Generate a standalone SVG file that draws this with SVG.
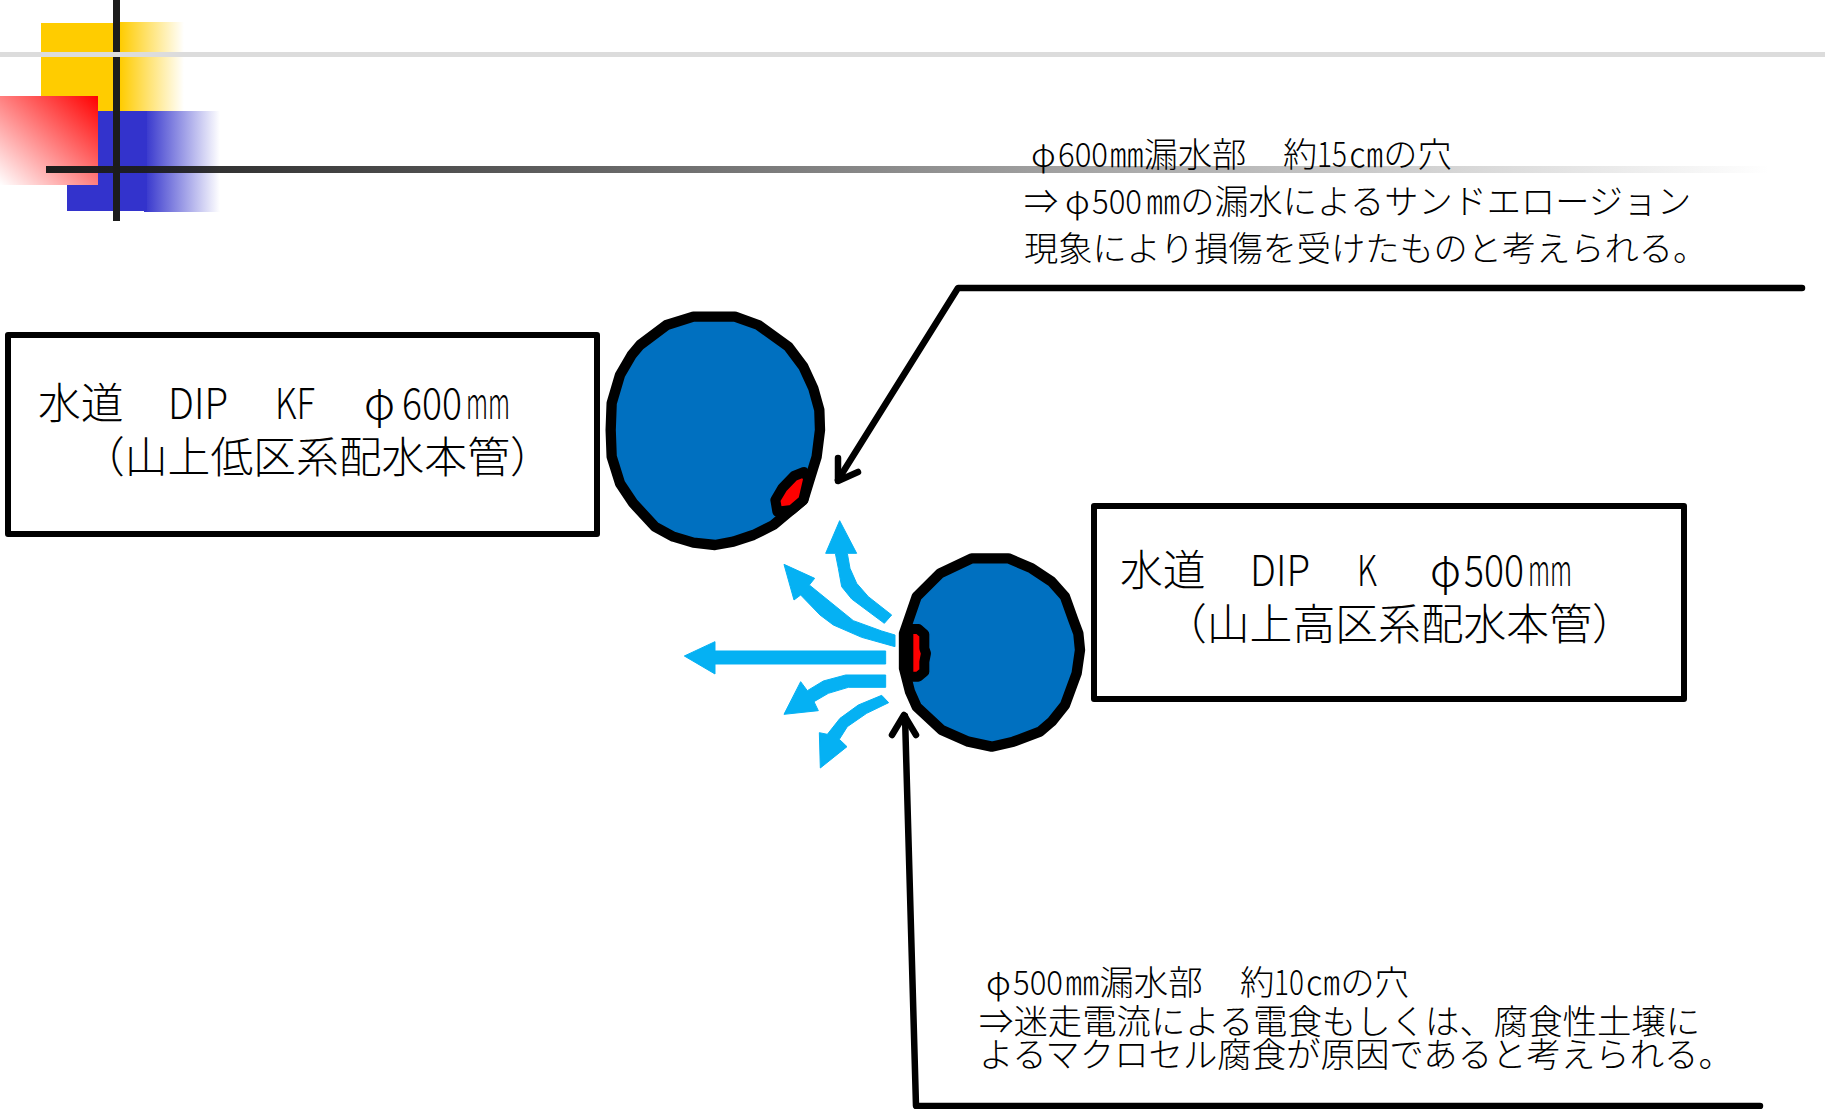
<svg xmlns="http://www.w3.org/2000/svg" width="1825" height="1109" viewBox="0 0 1825 1109">
<style>
text{font-family:"Noto Sans CJK JP","Noto Sans",sans-serif;fill:#000;font-weight:300}
.b{font-size:42.8px}
.c{font-size:34.2px}
.d{font-size:34.4px}
.box{fill:#fff;stroke:#000;stroke-width:6;stroke-linejoin:round}
.pipe{fill:#0070c0;stroke:#000;stroke-width:31;stroke-linejoin:round}
.hole{fill:#f00;stroke:#000;stroke-width:30;stroke-linejoin:round}
.flow{fill:#05b1f3;stroke:#05b1f3;stroke-width:3;stroke-linejoin:round}
.ln{fill:none;stroke:#000;stroke-width:6.5;stroke-linejoin:round;stroke-linecap:round}
</style>
<defs>
<linearGradient id="gy" x1="0" x2="1" y1="0" y2="0"><stop offset="0" stop-color="#fc0"/><stop offset="1" stop-color="#fc0" stop-opacity="0"/></linearGradient>
<linearGradient id="gb" x1="0" x2="1" y1="0" y2="0"><stop offset="0" stop-color="#3333cc"/><stop offset="1" stop-color="#3333cc" stop-opacity="0"/></linearGradient>
<linearGradient id="gr" x1="1" x2="0" y1="0" y2="1"><stop offset="0" stop-color="#f00"/><stop offset="1" stop-color="#fff"/></linearGradient>
<linearGradient id="gk" x1="0" x2="1" y1="0" y2="0"><stop offset="0" stop-color="#1c1c1c"/><stop offset="1" stop-color="#1c1c1c" stop-opacity="0"/></linearGradient>
</defs>
<g id="header">
<rect x="41" y="23" width="80" height="88" fill="#fc0"/>
<rect x="120" y="22" width="64" height="89" fill="url(#gy)"/>
<rect x="67" y="111" width="80" height="100" fill="#3333cc"/>
<rect x="144" y="111" width="76" height="101" fill="url(#gb)"/>
<rect x="0" y="96" width="98" height="89" fill="url(#gr)"/>
<rect x="113" y="0" width="7" height="221" fill="#1c1c1c"/>
<rect x="0" y="52" width="1825" height="5" fill="#dcdcdc"/>
<rect x="46" y="166" width="1724" height="7" fill="url(#gk)"/>
</g>
<g id="connectors">
<path class="ln" d="M1802 288H958L838 480"/>
<path class="ln" d="M838 458V481L858 472"/>
<path class="ln" d="M1760 1106H916L905 716"/>
<path class="ln" d="M892 735L904 715L916 735"/>
</g>
<g id="flows" transform="translate(590 300) scale(.33333)">
<path class="flow" d="M749 662L800 760H772L780 805L800 850L835 890L905 945L883 970L785 897L755 860L745 805L736 760H707Z"/>
<path class="flow" d="M582 793L674 835L658 855L790 962L875 993L915 1005V1040L815 1012L730 975L690 945L632 885L612 900Z"/>
<path class="flow" d="M283 1068L375 1025V1053H887V1092H375V1122Z"/>
<path class="flow" d="M887 1125V1162H775L715 1180L672 1205L685 1232L582 1243L632 1145L652 1172L700 1143L767 1125Z"/>
<path class="flow" d="M875 1186L896 1208L830 1240L772 1280L748 1318L771 1340L691 1404L688 1298L712 1303L750 1255L805 1215Z"/>
</g>
<g id="pipe600">
<rect class="box" x="8" y="335" width="589" height="199"/>
<text class="b" y="419"><tspan x="38">水道</tspan><tspan x="168" textLength="60" lengthAdjust="spacingAndGlyphs">DIP</tspan><tspan x="275" textLength="40" lengthAdjust="spacingAndGlyphs">KF</tspan><tspan x="364">φ</tspan><tspan x="402" textLength="60" lengthAdjust="spacingAndGlyphs">600</tspan><tspan x="466" textLength="44" lengthAdjust="spacingAndGlyphs">mm</tspan></text>
<text class="b" x="82" y="473">（山上低区系配水本管）</text>
<g transform="translate(590 300) scale(.33333)">
<path class="pipe" d="M310 50H435L505 75L595 140L640 200L670 265L688 330L690 390L680 470L660 535L640 600L610 625L550 675L490 705L430 725L375 735L310 728L250 710L195 680L130 610L90 550L65 470L62 390L65 310L90 225L125 165L150 135L230 75Z"/>
<path class="hole" d="M642 516L655 535L640 600L605 630L562 635L556 600L578 563L612 528Z"/>
</g>
</g>
<g id="pipe500">
<rect class="box" x="1094" y="506" width="590" height="193"/>
<text class="b" y="586"><tspan x="1120">水道</tspan><tspan x="1250" textLength="60" lengthAdjust="spacingAndGlyphs">DIP</tspan><tspan x="1357" textLength="20" lengthAdjust="spacingAndGlyphs">K</tspan><tspan x="1430">φ</tspan><tspan x="1464" textLength="60" lengthAdjust="spacingAndGlyphs">500</tspan><tspan x="1528" textLength="44" lengthAdjust="spacingAndGlyphs">mm</tspan></text>
<text class="b" x="1164" y="640">（山上高区系配水本管）</text>
<g transform="translate(590 300) scale(.33333)">
<path class="pipe" d="M1145 775H1255L1325 805L1385 845L1425 890L1450 960L1465 1000L1470 1050L1460 1120L1425 1215L1385 1265L1350 1295L1270 1325L1205 1340L1135 1325L1055 1290L980 1220L960 1175L942 1105V1000L980 890L1050 820Z"/>
<path class="hole" d="M955 987H985L1003 1003V1045L1008 1060L1003 1085V1115L985 1130H955Z"/>
</g>
</g>
<g id="note600">
<text class="c" y="167"><tspan x="1031">φ</tspan><tspan x="1058" textLength="50" lengthAdjust="spacingAndGlyphs">600</tspan><tspan x="1109.5">㎜漏水部</tspan><tspan x="1283">約</tspan><tspan x="1317" textLength="30" lengthAdjust="spacingAndGlyphs">15</tspan><tspan x="1349">㎝の穴</tspan></text>
<text class="c" y="214"><tspan x="1024">⇒</tspan><tspan x="1065">φ</tspan><tspan x="1092" textLength="50" lengthAdjust="spacingAndGlyphs">500</tspan><tspan x="1146">㎜の漏水によるサンドエロージョン</tspan></text>
<text class="c" x="1024" y="261">現象により損傷を受けたものと考えられる。</text>
</g>
<g id="note500">
<text class="d" y="995"><tspan x="986">φ</tspan><tspan x="1013" textLength="50" lengthAdjust="spacingAndGlyphs">500</tspan><tspan x="1065">㎜漏水部</tspan><tspan x="1240">約</tspan><tspan x="1274" textLength="30" lengthAdjust="spacingAndGlyphs">10</tspan><tspan x="1305.8">㎝の穴</tspan></text>
<text class="d" x="979" y="1034">⇒迷走電流による電食もしくは、腐食性土壌に</text>
<text class="d" x="979" y="1067">よるマクロセル腐食が原因であると考えられる。</text>
</g>
</svg>
